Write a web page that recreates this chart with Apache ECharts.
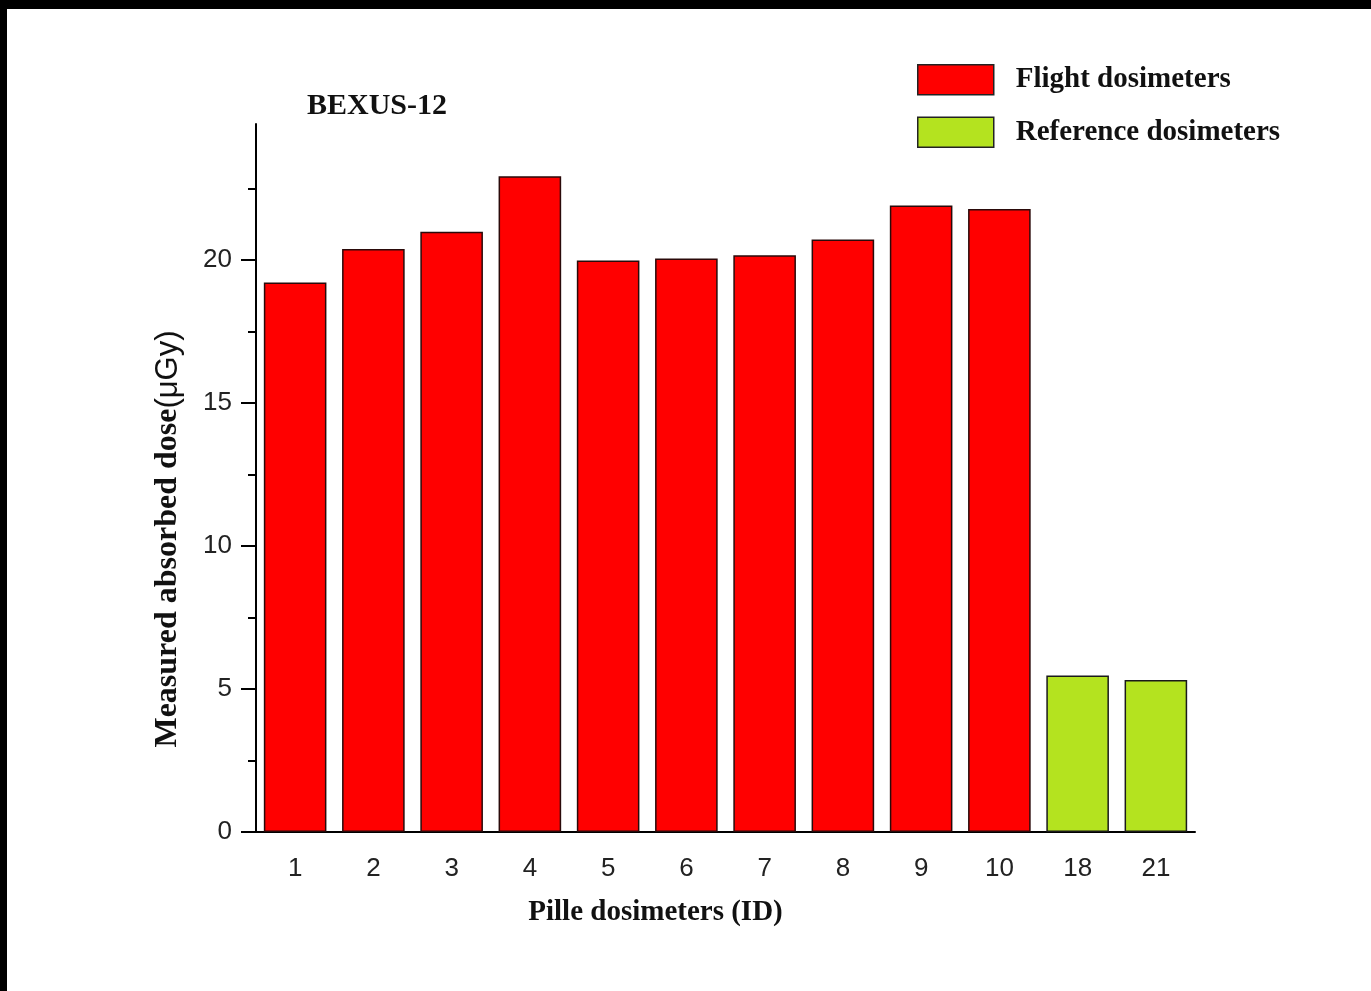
<!DOCTYPE html>
<html>
<head>
<meta charset="utf-8">
<title>BEXUS-12 Pille dosimeters</title>
<script src="https://cdn.jsdelivr.net/npm/echarts@6/dist/echarts.min.js"></script>
<style>
  html, body { margin: 0; padding: 0; background: #fff; }
  #chart { position: absolute; left: 0; top: 0; width: 1371px; height: 991px; background: #fff; }
  #frame { position: absolute; left: 0; top: 0; width: 1371px; height: 991px; box-sizing: border-box;
           border-top: 9px solid #000; border-left: 7px solid #000; pointer-events: none; }
</style>
</head>
<body>
<div id="chart"></div>
<div id="frame"></div>
<script>
// Dosimeter IDs along the x axis
const categories = ['1', '2', '3', '4', '5', '6', '7', '8', '9', '10', '18', '21'];
// Measured absorbed dose (µGy) per dosimeter
const flightDose    = [19.21, 20.38, 20.98, 22.92, 19.98, 20.05, 20.16, 20.71, 21.90, 21.78, null, null];
const referenceDose = [null, null, null, null, null, null, null, null, null, null, 5.47, 5.31];
// Value axis range, labelled ticks and the minor ticks between them
const yMin = 0;
const yMax = 24.75;
const yMajorTicks = [0, 5, 10, 15, 20];
const yMinorTicks = [2.5, 7.5, 12.5, 17.5, 22.5];

const SERIF = "'Liberation Serif', 'Times New Roman', serif";
const SANS = "'Liberation Sans', Arial, sans-serif";
const INK = '#111';

const chart = echarts.init(document.getElementById('chart'), null, { renderer: 'canvas' });

const option = {
  backgroundColor: '#fff',
  animation: false,
  title: {
    text: 'BEXUS-12',
    left: 302,
    top: 86,
    textStyle: { fontFamily: SERIF, fontWeight: 'bold', fontSize: 30, color: INK }
  },
  legend: {
    orient: 'vertical',
    left: 912,
    top: 59,
    itemWidth: 76,
    itemHeight: 30,
    itemGap: 21,
    icon: 'rect',
    itemStyle: { borderColor: '#222', borderWidth: 1.5 },
    textStyle: { fontFamily: SERIF, fontWeight: 'bold', fontSize: 29, color: INK, padding: [0, 0, 0, 17] },
    data: ['Flight dosimeters', 'Reference dosimeters']
  },
  grid: { left: 256, top: 124, width: 939, height: 708 },
  xAxis: [
    {
      type: 'category',
      data: categories,
      position: 'bottom',
      name: 'Pille dosimeters (ID)',
      nameLocation: 'middle',
      nameGap: 66,
      nameTextStyle: { fontFamily: SERIF, fontWeight: 'bold', fontSize: 29, color: INK, padding: [0, 140, 0, 0] },
      axisLine: { lineStyle: { color: '#000', width: 2 } },
      axisTick: { alignWithLabel: true, length: 15, lineStyle: { color: '#000', width: 2 } },
      axisLabel: { fontFamily: SANS, fontSize: 26, color: '#222', margin: 24 },
      splitLine: { show: false }
    },
    {
      // boundary ticks between categories
      type: 'category',
      data: categories,
      position: 'bottom',
      axisLine: { show: false },
      axisTick: { length: 8, lineStyle: { color: '#000', width: 2 } },
      axisLabel: { show: false },
      splitLine: { show: false }
    }
  ],
  yAxis: [
    {
      type: 'value',
      min: yMin,
      max: yMax,
      position: 'left',
      name: '{a|Measured absorbed dose}{b|(μGy)}',
      nameLocation: 'middle',
      nameRotate: 90,
      nameGap: 72,
      nameTextStyle: {
        padding: [0, 122, 0, 0],
        rich: {
          a: { fontFamily: SERIF, fontWeight: 'bold', fontSize: 32, color: INK },
          b: { fontFamily: SANS, fontSize: 31, color: INK }
        }
      },
      axisLine: { show: true, lineStyle: { color: '#000', width: 2 } },
      axisTick: { show: true, length: 15, customValues: yMajorTicks, lineStyle: { color: '#000', width: 2 } },
      axisLabel: { fontFamily: SANS, fontSize: 26, color: '#222', margin: 24, customValues: yMajorTicks },
      splitLine: { show: false }
    },
    {
      // minor ticks halfway between labelled values
      type: 'value',
      min: yMin,
      max: yMax,
      position: 'left',
      axisLine: { show: false },
      axisTick: { show: true, length: 8, customValues: yMinorTicks, lineStyle: { color: '#000', width: 2 } },
      axisLabel: { show: false },
      splitLine: { show: false }
    }
  ],
  series: [
    {
      name: 'Flight dosimeters',
      type: 'bar',
      stack: 'dose',
      barCategoryGap: '20%',
      data: flightDose,
      itemStyle: { color: '#ff0000', borderColor: '#2a0a0a', borderWidth: 1.5 }
    },
    {
      name: 'Reference dosimeters',
      type: 'bar',
      stack: 'dose',
      barCategoryGap: '20%',
      data: referenceDose,
      itemStyle: { color: '#b4e31f', borderColor: '#1a1a1a', borderWidth: 1.5 }
    }
  ]
};

chart.setOption(option);
</script>
</body>
</html>
